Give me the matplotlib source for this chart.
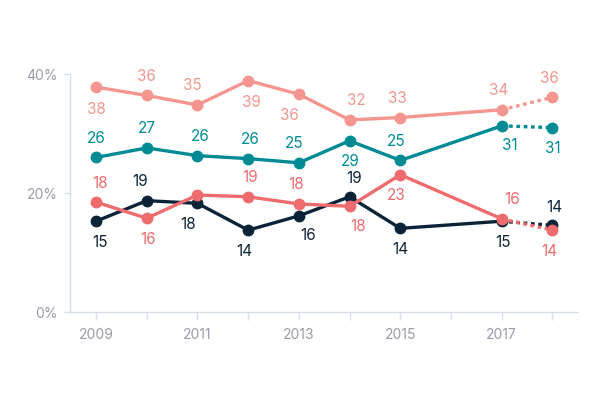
import numpy as np
import matplotlib
matplotlib.use("Agg")
import matplotlib.pyplot as plt

plt.rcParams['font.family'] = ['Inter', 'DejaVu Sans']

years = [2009, 2010, 2011, 2012, 2013, 2014, 2015, 2017, 2018]
tick_years = list(range(2009, 2019))
tick_labels = ['2009', '', '2011', '', '2013', '', '2015', '', '2017', '']

pink = [37.8, 36.4, 34.8, 38.9, 36.6, 32.3, 32.7, 34.0, 36.1]
teal = [26.0, 27.6, 26.3, 25.8, 25.1, 28.8, 25.5, 31.3, 31.0]
navy = [15.3, 18.75, 18.3, 13.8, 16.2, 19.4, 14.1, 15.3, 14.6]
coral = [18.5, 15.8, 19.7, 19.4, 18.2, 17.8, 23.1, 15.7, 13.8]

pink_lab = ['38', '36', '35', '39', '36', '32', '33', '34', '36']
teal_lab = ['26', '27', '26', '26', '25', '29', '25', '31', '31']
navy_lab = ['15', '19', '18', '14', '16', '19', '14', '15', '14']
coral_lab = ['18', '16', '', '19', '18', '18', '23', '16', '14']

# label offsets in pixels (dx, dy), dy positive = down
pink_off = [(0, 22), (0, -19), (-5, -19), (3, 22), (-10, 21), (7, -19), (-3, -19), (-3, -19), (-3, -19)]
teal_off = [(0, -19), (0, -19), (3, -19), (2, -19), (-5, -19), (1, 21), (-4, -19), (8, 20), (0, 21)]
navy_off = [(4, 21), (-7, -19), (-9, 21), (-4, 21), (9, 20), (4, -18), (0, 21), (1, 21), (2, -18)]
coral_off = [(4, -19), (1, 21), (0, 0), (2, -19), (-3, -19), (8, 20), (-4, 21), (10, -19), (-3, 21)]

colors = {'pink': '#F4968F', 'teal': '#008B94', 'navy': '#0B2338', 'coral': '#EE6B6E'}

fig = plt.figure(figsize=(6, 4), dpi=100)
ax = fig.add_axes([0.117, 0.219, 0.846, 0.596])

series = [
    (pink, pink_lab, pink_off, colors['pink']),
    (teal, teal_lab, teal_off, colors['teal']),
    (navy, navy_lab, navy_off, colors['navy']),
    (coral, coral_lab, coral_off, colors['coral']),
]

for vals, labs, offs, c in series:
    ax.plot(years[:-1], vals[:-1], color=c, lw=2.4, marker='o', ms=7.5,
            solid_capstyle='round', clip_on=False, zorder=3)
    ax.plot(years[-2:], vals[-2:], color=c, lw=2.4, ls=(0, (1.1, 1.1)),
            dash_capstyle='butt', clip_on=False, zorder=2)
    ax.plot(years[-1:], vals[-1:], color=c, marker='o', ms=7.5, ls='none',
            clip_on=False, zorder=3)
    for x, y, t, (dx, dy) in zip(years, vals, labs, offs):
        if t:
            ax.annotate(t, (x, y), xytext=(dx * 0.72, -dy * 0.72),
                        textcoords='offset points', ha='center', va='center',
                        fontsize=11, color=c, zorder=4)

ax.set_xlim(2008.49, 2018.5)
ax.set_ylim(0, 40)
ax.set_xticks(tick_years)
ax.set_xticklabels(tick_labels)
ax.set_yticks([0, 20, 40])
ax.set_yticklabels(['0%', '20%', '40%'])

for s in ['top', 'right']:
    ax.spines[s].set_visible(False)
for s in ['left', 'bottom']:
    ax.spines[s].set_color('#D6DEE6')
    ax.spines[s].set_linewidth(1)

ax.tick_params(axis='x', length=6, width=1, color='#D6DEE6', labelcolor='#9A9BA6',
               labelsize=10, pad=5)
ax.tick_params(axis='y', length=4, width=1, color='#D6DEE6', labelcolor='#9A9BA6',
               labelsize=10, pad=5)

fig.savefig('out.png', dpi=100)
